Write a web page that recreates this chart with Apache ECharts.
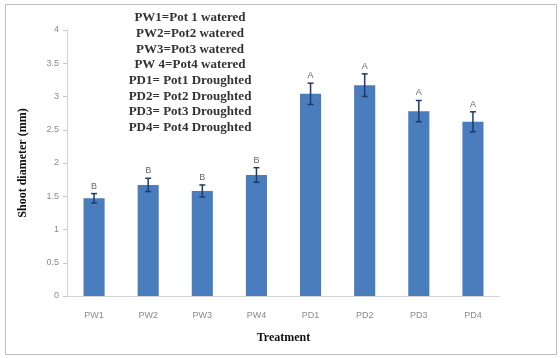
<!DOCTYPE html>
<html>
<head>
<meta charset="utf-8">
<script src="https://cdn.jsdelivr.net/npm/echarts@6/dist/echarts.min.js"></script>
<style>
  html, body { margin: 0; padding: 0; background: #fff; }
  #chart { width: 560px; height: 358px; }
</style>
</head>
<body>
<div id="chart"></div>
<script>
// Treatment groups and mean shoot diameter (mm)
const categories = ['PW1', 'PW2', 'PW3', 'PW4', 'PD1', 'PD2', 'PD3', 'PD4'];
const means = [1.47, 1.67, 1.58, 1.82, 3.04, 3.17, 2.78, 2.62];
const errors = [0.07, 0.10, 0.09, 0.11, 0.16, 0.17, 0.16, 0.15];
const letters = ['B', 'B', 'B', 'B', 'A', 'A', 'A', 'A'];
const yTicks = { min: 0, max: 4, interval: 0.5 };
const keyLines = [
  'PW1=Pot 1 watered',
  'PW2=Pot2 watered',
  'PW3=Pot3 watered',
  'PW 4=Pot4 watered',
  'PD1= Pot1 Droughted',
  'PD2= Pot2 Droughted',
  'PD3= Pot3 Droughted',
  'PD4= Pot4 Droughted'
];

const chart = echarts.init(document.getElementById('chart'), null, { renderer: 'canvas' });

const errorData = categories.map((c, i) => [i, means[i], errors[i], letters[i]]);

chart.setOption({
  animation: false,
  backgroundColor: '#fff',
  grid: { left: 67, right: 60, top: 30, bottom: 62 },
  xAxis: {
    type: 'category',
    data: categories,
    axisLine: { show: true, lineStyle: { color: '#d4d4d4', width: 1 } },
    axisTick: { show: false },
    axisLabel: { color: '#8a8a8a', fontSize: 9, fontFamily: 'Liberation Sans', margin: 15 },
    name: 'Treatment',
    nameLocation: 'middle',
    nameGap: 36,
    nameTextStyle: { fontFamily: 'Liberation Serif', fontWeight: 'bold', fontSize: 12, color: '#111' }
  },
  yAxis: {
    type: 'value',
    min: yTicks.min,
    max: yTicks.max,
    interval: yTicks.interval,
    splitLine: { show: false },
    axisLine: { show: true, lineStyle: { color: '#d4d4d4', width: 1 } },
    axisTick: { show: true, length: 4, lineStyle: { color: '#c8c8c8' } },
    axisLabel: { color: '#8a8a8a', fontSize: 9, fontFamily: 'Liberation Sans', margin: 8 },
    name: 'Shoot diameter (mm)',
    nameLocation: 'middle',
    nameGap: 38,
    nameTextStyle: { fontFamily: 'Liberation Serif', fontWeight: 'bold', fontSize: 12, color: '#111' }
  },
  series: [
    {
      type: 'bar',
      data: means,
      barWidth: '39%',
      itemStyle: { color: '#4a7dbd' }
    },
    {
      type: 'custom',
      data: errorData,
      z: 10,
      renderItem: function (params, api) {
        const i = api.value(0);
        const m = api.value(1);
        const e = api.value(2);
        const top = api.coord([i, m + e]);
        const bot = api.coord([i, m - e]);
        const cap = 3;
        const style = { stroke: '#1d3a6b', lineWidth: 1.5 };
        return {
          type: 'group',
          children: [
            { type: 'line', shape: { x1: top[0], y1: top[1], x2: bot[0], y2: bot[1] }, style: style },
            { type: 'line', shape: { x1: top[0] - cap, y1: top[1], x2: top[0] + cap, y2: top[1] }, style: style },
            { type: 'line', shape: { x1: bot[0] - cap, y1: bot[1], x2: bot[0] + cap, y2: bot[1] }, style: style },
            {
              type: 'text',
              style: {
                text: errorData[params.dataIndex][3],
                x: top[0], y: top[1] - 3,
                align: 'center', verticalAlign: 'bottom',
                fontFamily: 'Liberation Sans', fontSize: 9, fill: '#666'
              }
            }
          ]
        };
      }
    }
  ],
  graphic: [
    {
      type: 'rect',
      shape: { x: 5.5, y: 4.5, width: 551, height: 350 },
      style: { fill: 'none', stroke: '#bdbdbd', lineWidth: 1 },
      z: -1
    },
    {
      type: 'text',
      x: 190,
      y: 10,
      style: {
        text: keyLines.join('\n'),
        align: 'center',
        verticalAlign: 'top',
        lineHeight: 15.7,
        fontFamily: 'Liberation Serif',
        fontWeight: 'bold',
        fontSize: 13,
        fill: '#333'
      }
    }
  ]
});
</script>
</body>
</html>
